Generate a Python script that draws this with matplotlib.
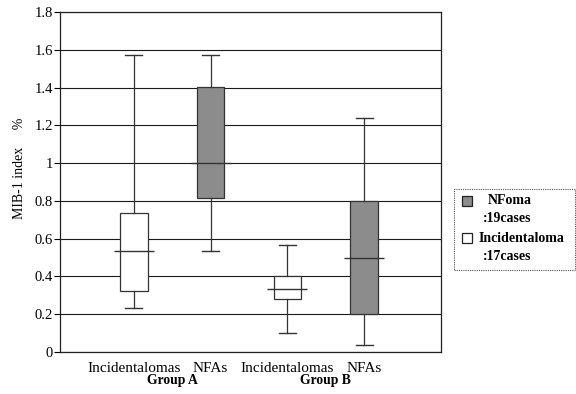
import matplotlib.pyplot as plt
from matplotlib.patches import Rectangle

plt.rcParams['font.family'] = ['Liberation Serif', 'DejaVu Serif']

# box statistics (MIB-1 index, %)
categories = ['Incidentalomas', 'NFAs', 'Incidentalomas', 'NFAs']
groups = ['Group A', 'Group B']
whisker_low = [0.235, 0.534, 0.099, 0.035]
q1 = [0.322, 0.813, 0.279, 0.20]
median = [0.535, 1.00, 0.332, 0.50]
q3 = [0.737, 1.402, 0.401, 0.80]
whisker_high = [1.573, 1.573, 0.569, 1.237]
is_nfa = [False, True, False, True]

legend_names = ['NFoma', 'Incidentaloma']
case_counts = [19, 17]

grey = '#8c8c8c'
positions = [1, 2, 3, 4]

fig = plt.figure(figsize=(5.76, 3.94), dpi=100)
ax = fig.add_axes([60 / 576, 42 / 394, 381 / 576, 340 / 394])

stats = []
for i in range(len(categories)):
    stats.append({'whislo': whisker_low[i], 'q1': q1[i], 'med': median[i],
                  'q3': q3[i], 'whishi': whisker_high[i], 'fliers': []})

bp = ax.bxp(stats, positions=positions, widths=0.36, patch_artist=True,
            showfliers=False, capwidths=0.22,
            boxprops=dict(linewidth=0.9, edgecolor='#333333'),
            whiskerprops=dict(linewidth=0.9, color='#333333'),
            capprops=dict(linewidth=1.0, color='#333333'),
            medianprops=dict(visible=False), zorder=3)
for patch, nfa in zip(bp['boxes'], is_nfa):
    patch.set_facecolor(grey if nfa else 'white')

# medians drawn a bit wider than the boxes
for p, m in zip(positions, median):
    ax.hlines(m, p - 0.26, p + 0.26, color='#333333', linewidth=1.0, zorder=4)

ax.set_ylim(0, 1.8)
ax.set_xlim(0.04, 5.0)
ax.set_yticks([0, 0.2, 0.4, 0.6, 0.8, 1, 1.2, 1.4, 1.6, 1.8])
ax.set_yticklabels(['0', '0.2', '0.4', '0.6', '0.8', '1', '1.2', '1.4', '1.6', '1.8'])
ax.yaxis.grid(True, color='#1a1a1a', linewidth=0.8)
ax.set_axisbelow(True)
ax.tick_params(axis='y', length=4, width=0.8, pad=1, labelsize=10.5)
ax.set_xticks(positions)
ax.set_xticklabels(categories, fontsize=11)
ax.tick_params(axis='x', length=0, pad=7)
for s in ax.spines.values():
    s.set_linewidth(0.9)
    s.set_color('#222222')

# group names under each pair of boxes
for gi, g in enumerate(groups):
    xm = (positions[2 * gi] + positions[2 * gi + 1]) / 2
    ax.text(xm, -0.083, g, ha='center', va='center', fontsize=9.8,
            fontweight='bold', transform=ax.get_xaxis_transform())

fig.text(20 / 576, (394 - 168) / 394, 'MIB-1 index     %', rotation=90,
         ha='center', va='center', fontsize=10)

# legend box
fig.patches.append(Rectangle((454 / 576, 124 / 394), 121 / 576, 81 / 394,
                             transform=fig.transFigure, fill=False,
                             edgecolor='#555555', linewidth=0.8,
                             linestyle=(0, (1, 1))))
swatch_y = [201, 238]
for name, n, fc, yy in zip(legend_names, case_counts, [grey, 'white'], swatch_y):
    fig.patches.append(Rectangle((462 / 576, (394 - yy - 5) / 394), 10 / 576, 10 / 394,
                                 transform=fig.transFigure, facecolor=fc,
                                 edgecolor='#222222', linewidth=0.9))
    name_x = 488 if name == 'NFoma' else 479
    fig.text(name_x / 576, (394 - yy) / 394, name, ha='left', va='center',
             fontsize=10, fontweight='bold')
    fig.text(483 / 576, (394 - yy - 18) / 394, f':{n}cases', ha='left',
             va='center', fontsize=10, fontweight='bold')

fig.savefig('out.png', dpi=100)
